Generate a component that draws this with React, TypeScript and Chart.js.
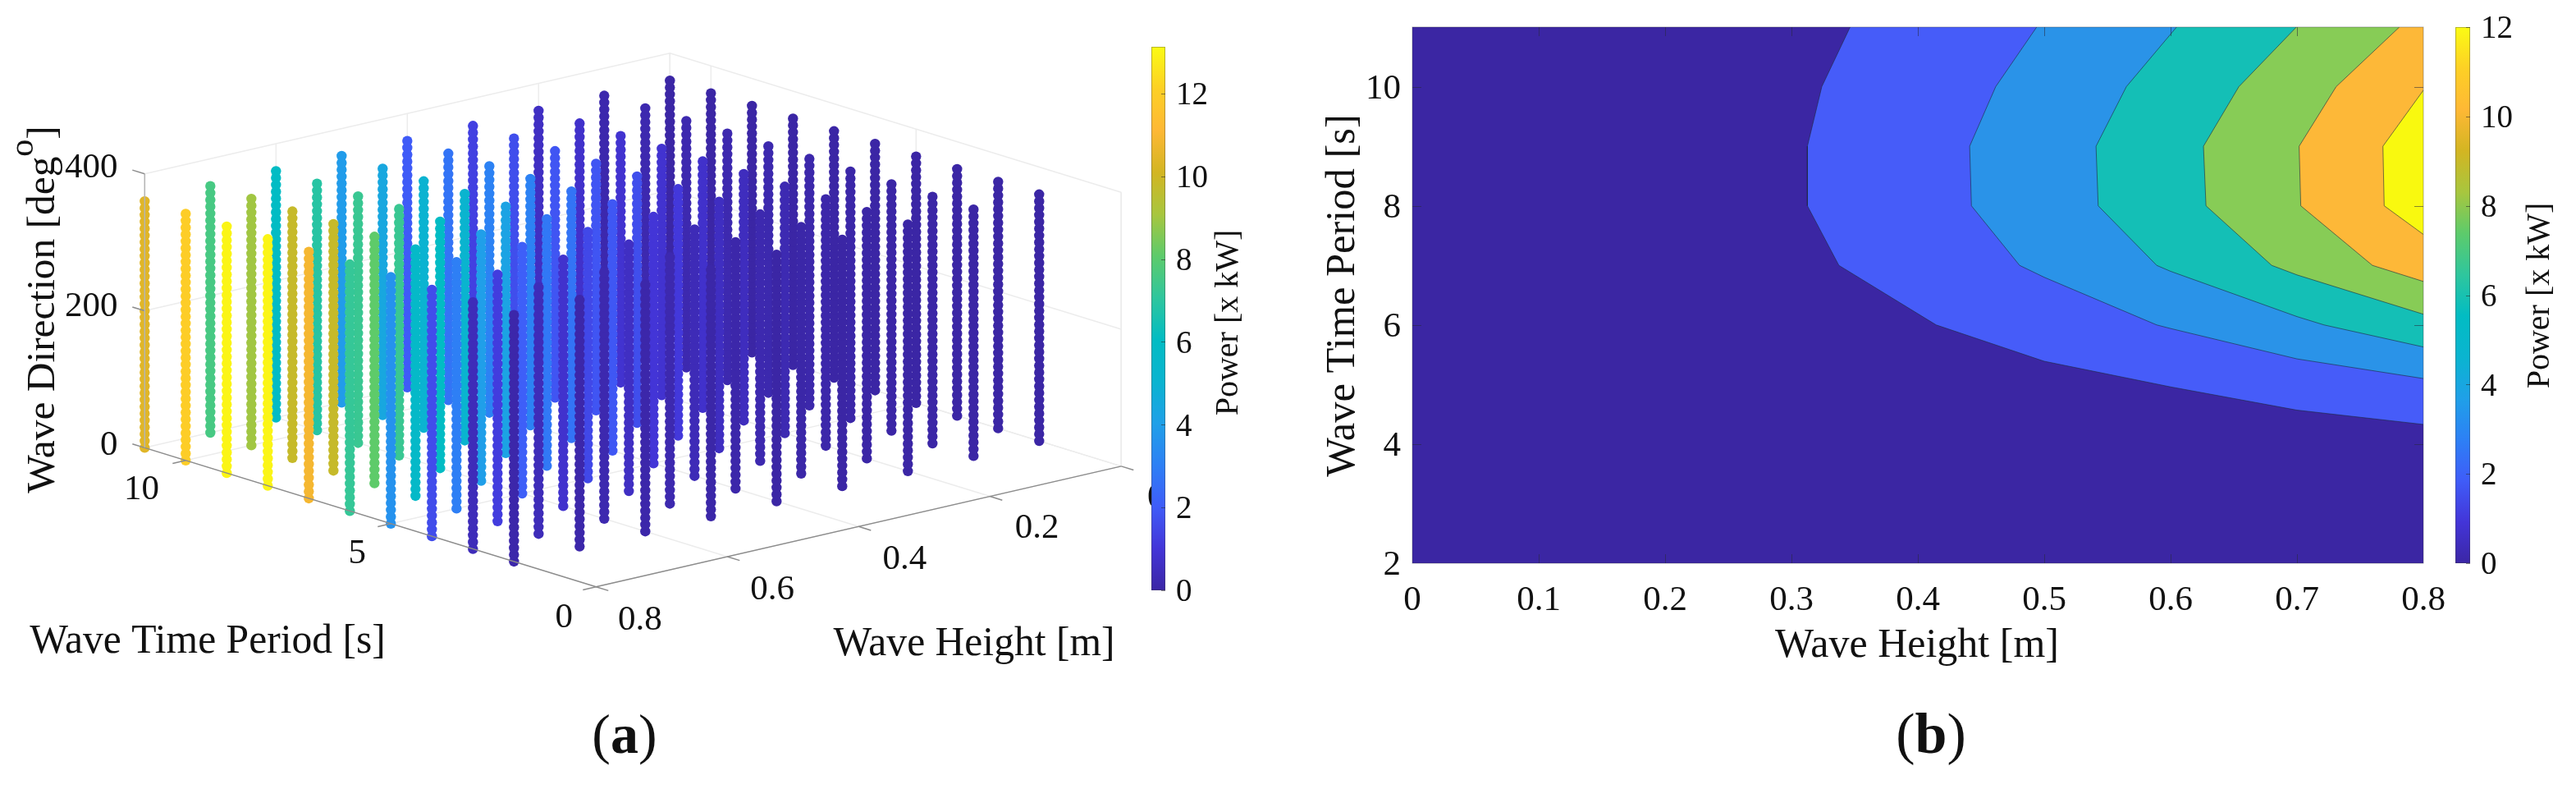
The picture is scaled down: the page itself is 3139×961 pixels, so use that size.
import React, { useEffect, useRef } from "react";
import { Chart, registerables } from "chart.js";

Chart.register(...registerables);

// ---------- data ----------
const waveHeights = [0, 0.1, 0.2, 0.3, 0.4, 0.5, 0.6, 0.7, 0.8];
const wavePeriods = [2, 3, 4, 5, 6, 7, 8, 9, 10, 11];
const waveDirections = [
  0, 10, 20, 30, 40, 50, 60, 70, 80, 90, 100, 110, 120, 130, 140, 150, 160, 170, 180,
  190, 200, 210, 220, 230, 240, 250, 260, 270, 280, 290, 300, 310, 320, 330, 340, 350, 360,
];
// one row per entry of wavePeriods, one value per entry of waveHeights
const powerT2 = [0, 0, 0, 0, 0, 0.05, 0.1, 0.1, 0.1];
const powerT3 = [0, 0.01, 0.02, 0.05, 0.1, 0.2, 0.2, 0.4, 0.4];
const powerT4 = [0, 0.02, 0.1, 0.2, 0.35, 0.6, 0.8, 1.2, 1.6];
const powerT5 = [0, 0.06, 0.25, 0.55, 1.0, 1.5, 2.1, 3.0, 3.6];
const powerT6 = [0, 0.12, 0.5, 1.1, 1.9, 2.8, 4.0, 5.7, 7.2];
const powerT7 = [0, 0.18, 0.75, 1.65, 2.7, 4.2, 6.0, 8.1, 10.9];
const powerT8 = [0, 0.2, 0.85, 1.85, 3.1, 5.1, 7.3, 9.8, 13.0];
const powerT9 = [0, 0.2, 0.85, 1.85, 3.1, 5.0, 7.3, 9.8, 13.0];
const powerT10 = [0, 0.2, 0.75, 1.65, 2.7, 4.4, 6.9, 9.0, 12.0];
const powerT11 = [0, 0.15, 0.6, 1.3, 2.0, 3.9, 6.0, 7.6, 10.4];
const powerRows = [powerT2, powerT3, powerT4, powerT5, powerT6, powerT7, powerT8, powerT9, powerT10, powerT11];

const scatterPeriodTicks = [0, 5, 10];
const scatterHeightTicks = [0, 0.2, 0.4, 0.6, 0.8];
const scatterDirectionTicks = [0, 200, 400];
const scatterColorTicks = [0, 2, 4, 6, 8, 10, 12];

const contourHeightTicks = [0, 0.1, 0.2, 0.3, 0.4, 0.5, 0.6, 0.7, 0.8];
const contourPeriodTicks = [2, 4, 6, 8, 10];
const contourColorTicks = [0, 2, 4, 6, 8, 10, 12];

// contour lines as [wave height, wave period]
const contour2 = [[0.3464, 11], [0.324, 10], [0.3126, 9], [0.3126, 8], [0.3375, 7], [0.4145, 6], [0.5, 5.39], [0.6, 4.96], [0.7, 4.57], [0.8, 4.33]];
const contour4 = [[0.494, 11], [0.4616, 10], [0.441, 9], [0.4424, 8], [0.4805, 7], [0.5, 6.8], [0.589, 6], [0.6, 5.94], [0.7, 5.43], [0.8, 5.1]];
const contour6 = [[0.6047, 11], [0.565, 10], [0.541, 9], [0.5427, 8], [0.589, 7], [0.6, 6.9], [0.7, 6.14], [0.7214, 6], [0.8, 5.63]];
const contour8 = [[0.6995, 11], [0.654, 10], [0.626, 9], [0.628, 8], [0.68, 7], [0.7, 6.84], [0.8, 6.18]];
const contour10 = [[0.781, 11], [0.731, 10], [0.7017, 9], [0.703, 8], [0.7597, 7], [0.8, 6.73]];
const contour12 = [[0.8, 9.94], [0.768, 9], [0.769, 8], [0.8, 7.52]];
const contourLines = [contour2, contour4, contour6, contour8, contour10, contour12];

// ---------- styles ----------
const SERIF = '"Liberation Serif"';
const baseFill = "#3b26a3";
const bandFills = ["#465cf9", "#2a93e8", "#14bfb6", "#87cc56", "#fdb838", "#f9f90f"];
const colormapStops = [
  "#3b26a5", "#4335d8", "#3f5cf8", "#2d80f5", "#1fa0e8", "#0ab4d0", "#02bcc3",
  "#2fc69d", "#5dcb6b", "#a8c63e", "#d3b522", "#feb835", "#fdd025", "#fbfb14",
];
const TEXT = "#111";

const hexToRgb = (h: string) => [1, 3, 5].map((i) => parseInt(h.slice(i, i + 2), 16));
function colormap(t: number) {
  const f = Math.max(0, Math.min(1, t)) * (colormapStops.length - 1);
  const i = Math.min(colormapStops.length - 2, Math.floor(f));
  const a = hexToRgb(colormapStops[i]);
  const b = hexToRgb(colormapStops[i + 1]);
  const c = a.map((v, k) => Math.round(v + (b[k] - v) * (f - i)));
  return `rgb(${c[0]},${c[1]},${c[2]})`;
}

// ---------- 3-D view of the scatter panel ----------
const SCATTER_POWER_MAX = 13.13;
const project = (h: number, t: number, d: number) => ({
  x: 1371 - 806.4 * h - 50.4 * t,
  y: 569 + 186 * h - 15.6 * t - 0.845 * d,
});

type Run = { text: string; size: number; bold?: boolean; dy?: number };
function drawRuns(ctx: any, runs: Run[], x: number, y: number, rotation = 0, baseline = "middle") {
  ctx.save();
  ctx.translate(x, y);
  ctx.rotate(rotation);
  ctx.textAlign = "left";
  ctx.textBaseline = baseline;
  ctx.fillStyle = TEXT;
  const font = (r: Run) => `${r.bold ? "bold " : ""}${r.size}px ${SERIF}`;
  let total = 0;
  for (const r of runs) {
    ctx.font = font(r);
    total += ctx.measureText(r.text).width;
  }
  let cx = -total / 2;
  for (const r of runs) {
    ctx.font = font(r);
    ctx.fillText(r.text, cx, r.dy || 0);
    cx += ctx.measureText(r.text).width;
  }
  ctx.restore();
}
function drawLabel(ctx: any, text: string, x: number, y: number, size: number, align: string) {
  ctx.save();
  ctx.font = `${size}px ${SERIF}`;
  ctx.textAlign = align;
  ctx.textBaseline = "middle";
  ctx.fillStyle = TEXT;
  ctx.fillText(text, x, y + 2);
  ctx.restore();
}

const line = (pts: number[][], color: string, width: number, order: number) => ({
  type: "scatter",
  data: pts.map(([h, t, d]) => project(h, t, d)),
  showLine: true,
  borderColor: color,
  borderWidth: width,
  pointRadius: 0,
  order,
});

function scatterGridDatasets() {
  const GRID = "#ececec";
  const AXIS = "#8c8c8c";
  const hMax = waveHeights[waveHeights.length - 1];
  const tMax = wavePeriods[wavePeriods.length - 1];
  const dMax = scatterDirectionTicks[scatterDirectionTicks.length - 1];
  const out: any[] = [];
  for (const d of scatterDirectionTicks) {
    out.push(line([[hMax, tMax, d], [0, tMax, d], [0, 0, d]], GRID, 1.5, 5));
  }
  for (const h of scatterHeightTicks) {
    out.push(line([[h, tMax, 0], [h, tMax, dMax]], GRID, 1.5, 5));
    out.push(line([[h, 0, 0], [h, tMax, 0]], GRID, 1.5, 5));
  }
  for (const t of scatterPeriodTicks) {
    out.push(line([[0, t, 0], [0, t, dMax]], GRID, 1.5, 5));
    out.push(line([[hMax, t, 0], [0, t, 0]], GRID, 1.5, 5));
  }
  out.push(line([[0, tMax, 0], [0, tMax, dMax]], GRID, 1.5, 5));
  out.push(line([[0, 0, 0], [0, 0, dMax]], GRID, 1.5, 5));
  // axes and tick marks
  out.push(line([[hMax, tMax, 0], [hMax, 0, 0], [0, 0, 0]], AXIS, 1.5, -1));
  out.push(line([[hMax, tMax, 0], [hMax, tMax, dMax]], "#b5b5b5", 1.5, -1));
  for (const t of scatterPeriodTicks) out.push(line([[hMax, t, 0], [hMax + 0.02, t, 0]], AXIS, 1.5, -1));
  for (const h of scatterHeightTicks) out.push(line([[h, 0, 0], [h, -0.3, 0]], AXIS, 1.5, -1));
  for (const d of scatterDirectionTicks) out.push(line([[hMax, tMax, d], [hMax, tMax + 0.3, d]], AXIS, 1.5, -1));
  return out;
}

function scatterPoints() {
  const cols: { h: number; t: number; p: number }[] = [];
  wavePeriods.forEach((t, i) => waveHeights.forEach((h, j) => cols.push({ h, t, p: powerRows[i][j] })));
  cols.sort((a, b) => project(a.h, a.t, 0).y - project(b.h, b.t, 0).y);
  const data: any[] = [];
  const colors: string[] = [];
  for (const c of cols) {
    for (const d of waveDirections) {
      data.push(project(c.h, c.t, d));
      colors.push(colormap(c.p / SCATTER_POWER_MAX));
    }
  }
  return { data, colors };
}

const scatterLabels = {
  id: "scatterLabels",
  afterDraw(chart: any) {
    const ctx = chart.ctx;
    const TICK = 43;
    for (const d of scatterDirectionTicks) {
      const p = project(0.8, 11, d);
      drawLabel(ctx, String(d), p.x - 28, p.y - 5, TICK, "right");
    }
    for (const t of scatterPeriodTicks) {
      const p = project(0.8, t, 0);
      drawLabel(ctx, String(t), p.x - 28, p.y + 33, TICK, "right");
    }
    for (const h of scatterHeightTicks) {
      const p = project(h, 0, 0);
      drawLabel(ctx, String(h), p.x + 27, p.y + 36, TICK, "left");
    }
    drawRuns(ctx, [{ text: "Wave Time Period [s]", size: 49.6 }], 253, 782);
    drawRuns(ctx, [{ text: "Wave Height [m]", size: 49.6 }], 1187, 785);
    drawRuns(
      ctx,
      [
        { text: "Wave Direction [deg", size: 49.4 },
        { text: "o", size: 42, dy: -26 },
        { text: "]", size: 49.4 },
      ],
      66,
      377,
      -Math.PI / 2,
      "alphabetic",
    );
    drawRuns(ctx, [{ text: "(", size: 68 }, { text: "a", size: 68, bold: true }, { text: ")", size: 68 }], 761, 899);
  },
};

// ---------- contour panel plugins ----------
const contourFill = {
  id: "contourFill",
  beforeDatasetsDraw(chart: any) {
    const { ctx, chartArea: a, scales } = chart;
    ctx.save();
    ctx.beginPath();
    ctx.rect(a.left, a.top, a.right - a.left, a.bottom - a.top);
    ctx.clip();
    ctx.fillStyle = baseFill;
    ctx.fillRect(a.left, a.top, a.right - a.left, a.bottom - a.top);
    contourLines.forEach((c, i) => {
      const pts = chart.getDatasetMeta(i).data;
      ctx.beginPath();
      pts.forEach((p: any, k: number) => (k ? ctx.lineTo(p.x, p.y) : ctx.moveTo(p.x, p.y)));
      if (c[0][1] === 11) ctx.lineTo(scales.x.getPixelForValue(0.8), scales.y.getPixelForValue(11));
      ctx.closePath();
      ctx.fillStyle = bandFills[i];
      ctx.fill();
    });
    ctx.restore();
  },
  afterDraw(chart: any) {
    const { ctx, chartArea: a, scales } = chart;
    ctx.save();
    ctx.lineWidth = 1;
    ctx.strokeStyle = "rgba(40,40,60,0.55)";
    ctx.beginPath();
    const L = 11;
    for (const v of contourHeightTicks) {
      if (v === 0 || v === 0.8) continue;
      const x = Math.round(scales.x.getPixelForValue(v)) + 0.5;
      ctx.moveTo(x, a.bottom);
      ctx.lineTo(x, a.bottom - L);
      ctx.moveTo(x, a.top);
      ctx.lineTo(x, a.top + L);
    }
    for (const v of contourPeriodTicks) {
      if (v === 2) continue;
      const y = Math.round(scales.y.getPixelForValue(v)) + 0.5;
      ctx.moveTo(a.left, y);
      ctx.lineTo(a.left + L, y);
      ctx.moveTo(a.right, y);
      ctx.lineTo(a.right - L, y);
    }
    ctx.stroke();
    ctx.strokeStyle = "rgba(60,60,70,0.4)";
    ctx.strokeRect(a.left, a.top, a.right - a.left, a.bottom - a.top);
    ctx.restore();
    drawRuns(ctx, [{ text: "Wave Height [m]", size: 50 }], 776, 787);
    drawRuns(ctx, [{ text: "Wave Time Period [s]", size: 50.5 }], 77, 360, -Math.PI / 2);
    drawRuns(ctx, [{ text: "(", size: 70 }, { text: "b", size: 70, bold: true }, { text: ")", size: 70 }], 793, 899);
  },
};

function makeColorBar(canvas: HTMLCanvasElement, max: number, ticks: number[], barTop: number, barBottom: number, barW: number, titleX: number, titleY: number) {
  const w = canvas.width;
  const h = canvas.height;
  return new Chart(canvas, {
    type: "bar",
    data: {
      labels: ["Power [x kW]"],
      datasets: [
        {
          data: [max],
          barPercentage: 1,
          categoryPercentage: 1,
          borderWidth: 0,
          backgroundColor: (c: any) => {
            const a = c.chart.chartArea;
            if (!a) return colormapStops[0];
            const g = c.chart.ctx.createLinearGradient(0, a.bottom, 0, a.top);
            colormapStops.forEach((s, i) => g.addColorStop(i / (colormapStops.length - 1), s));
            return g;
          },
        },
      ],
    },
    options: {
      responsive: false,
      animation: false,
      maintainAspectRatio: false,
      layout: { padding: { top: barTop, bottom: h - barBottom, left: 0, right: 0 } },
      plugins: { legend: { display: false }, tooltip: { enabled: false } },
      scales: {
        x: { display: false },
        y: {
          position: "right",
          min: 0,
          max,
          grid: { display: false, drawTicks: false },
          border: { display: false },
          afterBuildTicks: (s: any) => {
            s.ticks = ticks.map((value) => ({ value }));
          },
          afterFit: (s: any) => {
            s.width = w - barW;
            s.paddingTop = 0;
            s.paddingBottom = 0;
          },
          ticks: {
            padding: 13,
            labelOffset: 3,
            color: TEXT,
            font: { family: SERIF, size: 39 },
            callback: (v: any) => String(v),
          },
        },
      },
    },
    plugins: [
      {
        id: "barDecor",
        afterDraw(chart: any) {
          const { ctx, chartArea: a, scales } = chart;
          ctx.save();
          ctx.lineWidth = 1;
          ctx.strokeStyle = "rgba(60,60,60,0.35)";
          ctx.strokeRect(a.left + 0.5, a.top + 0.5, a.right - a.left - 1, a.bottom - a.top - 1);
          ctx.strokeStyle = "rgba(40,40,40,0.55)";
          ctx.beginPath();
          for (const v of ticks) {
            const y = Math.round(scales.y.getPixelForValue(v)) + 0.5;
            ctx.moveTo(a.right, y);
            ctx.lineTo(a.right - 5, y);
          }
          ctx.stroke();
          ctx.restore();
          drawRuns(ctx, [{ text: "Power [x kW]", size: 40 }], titleX, titleY, -Math.PI / 2);
        },
      },
    ],
  } as any);
}

export default function App() {
  const scatterRef = useRef<HTMLCanvasElement>(null);
  const scatterBarRef = useRef<HTMLCanvasElement>(null);
  const contourRef = useRef<HTMLCanvasElement>(null);
  const contourBarRef = useRef<HTMLCanvasElement>(null);

  useEffect(() => {
    const pts = scatterPoints();
    const scatter = new Chart(scatterRef.current as any, {
      type: "scatter",
      data: {
        datasets: [
          {
            label: "Power",
            data: pts.data,
            pointRadius: 6.2,
            pointHoverRadius: 6.2,
            pointBorderWidth: 0,
            pointBackgroundColor: pts.colors,
            order: 0,
          },
          ...scatterGridDatasets(),
        ],
      },
      options: {
        responsive: false,
        animation: false,
        layout: { padding: 0 },
        plugins: { legend: { display: false }, tooltip: { enabled: false } },
        scales: {
          x: { type: "linear", display: false, min: 0, max: 1560 },
          y: { type: "linear", display: false, min: 0, max: 961, reverse: true },
        },
      },
      plugins: [scatterLabels],
    } as any);

    const contourH = 961;
    const contour = new Chart(contourRef.current as any, {
      type: "scatter",
      data: {
        datasets: contourLines.map((c, i) => ({
          label: `level ${(i + 1) * 2}`,
          data: c.map(([x, y]) => ({ x, y })),
          showLine: true,
          borderColor: "rgba(30,40,60,0.6)",
          borderWidth: 1,
          pointRadius: 0,
        })),
      },
      options: {
        responsive: false,
        animation: false,
        layout: { padding: { top: 33, right: 32, left: 0, bottom: 0 } },
        plugins: { legend: { display: false }, tooltip: { enabled: false } },
        scales: {
          x: {
            type: "linear",
            min: 0,
            max: 0.8,
            grid: { display: false, drawTicks: false },
            border: { display: false },
            afterBuildTicks: (s: any) => {
              s.ticks = contourHeightTicks.map((value) => ({ value }));
            },
            afterFit: (s: any) => {
              s.height = contourH - 686;
              s.paddingLeft = 0;
              s.paddingRight = 0;
            },
            ticks: {
              padding: 20,
              maxRotation: 0,
              autoSkip: false,
              color: TEXT,
              font: { family: SERIF, size: 43 },
              callback: (v: any) => String(v),
            },
          },
          y: {
            type: "linear",
            min: 2,
            max: 11,
            grid: { display: false, drawTicks: false },
            border: { display: false },
            afterBuildTicks: (s: any) => {
              s.ticks = contourPeriodTicks.map((value) => ({ value }));
            },
            afterFit: (s: any) => {
              s.width = 161;
              s.paddingTop = 0;
              s.paddingBottom = 0;
            },
            ticks: {
              padding: 14,
              labelOffset: 3,
              color: TEXT,
              font: { family: SERIF, size: 43 },
              callback: (v: any) => String(v),
            },
          },
        },
      },
      plugins: [contourFill],
    } as any);

    const bar1 = makeColorBar(scatterBarRef.current as any, SCATTER_POWER_MAX, scatterColorTicks, 57, 719, 17, 94, 393);
    const bar2 = makeColorBar(contourBarRef.current as any, 12, contourColorTicks, 33, 686, 18, 103, 360);

    return () => {
      scatter.destroy();
      contour.destroy();
      bar1.destroy();
      bar2.destroy();
    };
  }, []);

  const pos = (left: number): React.CSSProperties => ({ position: "absolute", left, top: 0, display: "block" });
  return (
    <div style={{ position: "fixed", left: 0, top: 0, width: 3139, height: 961, background: "#fff", overflow: "hidden" }}>
      <canvas ref={scatterRef} width={1560} height={961} style={pos(0)} />
      <canvas ref={scatterBarRef} width={130} height={961} style={pos(1403)} />
      <canvas ref={contourRef} width={1425} height={961} style={pos(1560)} />
      <canvas ref={contourBarRef} width={147} height={961} style={pos(2992)} />
    </div>
  );
}
